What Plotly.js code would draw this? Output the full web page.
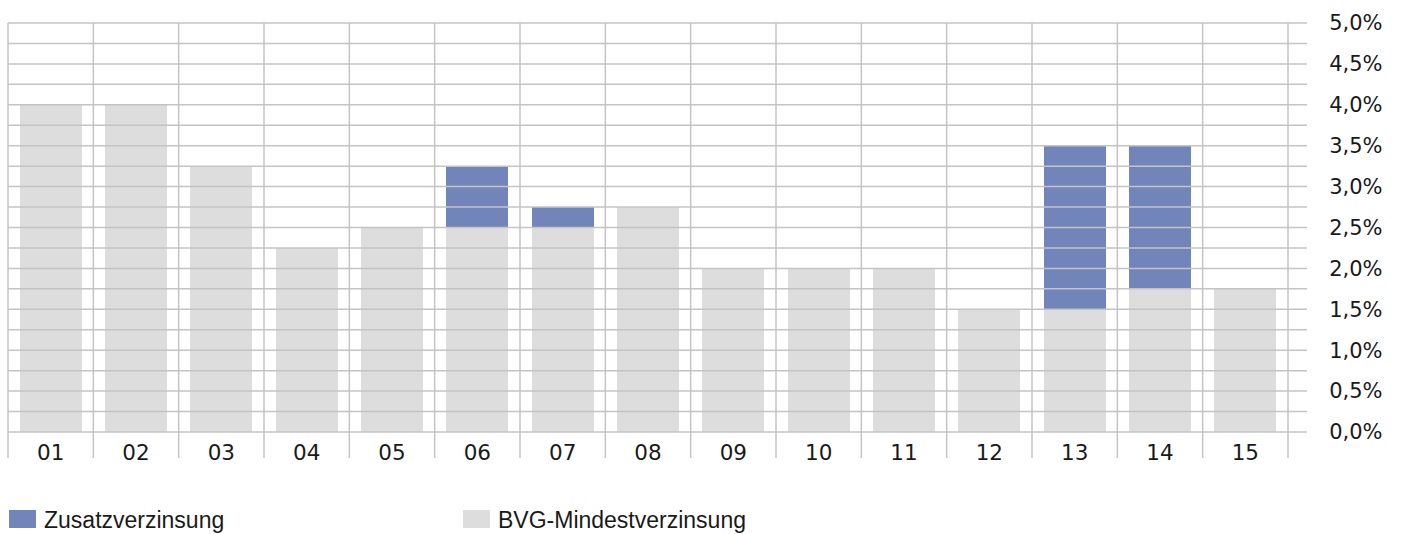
<!DOCTYPE html>
<html>
<head>
<meta charset="utf-8">
<script src="https://cdn.plot.ly/plotly-3.0.1.min.js"></script>
<style>html,body{margin:0;padding:0;background:#fff;}#chart{width:1401px;height:534px;}</style>
</head>
<body>
<div id="chart"></div>
<script>
const categories = ['01','02','03','04','05','06','07','08','09','10','11','12','13','14','15'];
const bvgMindest = [4, 4, 3.25, 2.25, 2.5, 2.5, 2.5, 2.75, 2, 2, 2, 1.5, 1.5, 1.75, 1.75];
const zusatz     = [0, 0, 0, 0, 0, 0.75, 0.25, 0, 0, 0, 0, 0, 2, 1.75, 0];
const seriesNames = ['Zusatzverzinsung', 'BVG-Mindestverzinsung'];
const colors = {zusatz: '#7185ba', bvg: '#dddddd', grid: '#c4c4c4', text: '#1a1a1a'};

const W = 1401, H = 534;
const M = {l: 8, r: 113, t: 23, b: 102};
const PW = W - M.l - M.r, PH = H - M.t - M.b;
const yMax = 5, yStep = 0.25;
const px = x => (x - M.l) / PW;
const py = y => (M.t + PH - y) / PH;

const traces = [
  {type: 'bar', x: categories, y: bvgMindest, name: seriesNames[1], marker: {color: colors.bvg}, showlegend: false, hoverinfo: 'skip'},
  {type: 'bar', x: categories, y: zusatz, name: seriesNames[0], marker: {color: colors.zusatz}, showlegend: false, hoverinfo: 'skip'}
];

const shapes = [];
// horizontal grid lines (drawn above bars), extending as right-side ticks
for (let v = 0; v <= yMax + 1e-9; v += yStep) {
  shapes.push({type: 'line', layer: 'above', xref: 'paper', yref: 'paper',
    x0: 0, x1: 1 + 19 / PW, y0: v / yMax, y1: v / yMax,
    line: {color: colors.grid, width: 1.5}});
}
// vertical category boundary lines, extending below the axis
for (let i = 0; i <= categories.length; i++) {
  const xp = i / categories.length;
  shapes.push({type: 'line', layer: 'above', xref: 'paper', yref: 'paper',
    x0: xp, x1: xp, y0: -26 / PH, y1: 1,
    line: {color: colors.grid, width: 1.5}});
}
// manual legend swatches
const legendItems = [
  {name: seriesNames[0], color: colors.zusatz, x: 9},
  {name: seriesNames[1], color: colors.bvg, x: 463}
];
const annotations = [];
legendItems.forEach(it => {
  shapes.push({type: 'rect', xref: 'paper', yref: 'paper',
    x0: px(it.x), x1: px(it.x + 27), y0: py(528), y1: py(510),
    fillcolor: it.color, line: {width: 0}});
  annotations.push({xref: 'paper', yref: 'paper', x: px(it.x + 33), y: py(519.5),
    xanchor: 'left', yanchor: 'middle', showarrow: false, text: it.name,
    font: {family: 'Liberation Sans, Arial, sans-serif', size: 23, color: colors.text}});
});

const layout = {
  width: W, height: H,
  margin: M,
  paper_bgcolor: '#ffffff', plot_bgcolor: '#ffffff',
  barmode: 'stack', bargap: 0.27,
  showlegend: false,
  separators: ',.',
  font: {family: 'DejaVu Sans, sans-serif', size: 21, color: colors.text},
  xaxis: {type: 'category', range: [-0.5, categories.length - 0.5], showgrid: false, zeroline: false, showline: false,
    ticks: 'outside', ticklen: 1, tickcolor: 'rgba(0,0,0,0)', tickfont: {size: 21.5}, fixedrange: true},
  yaxis: {side: 'right', range: [0, yMax], dtick: 0.5, tick0: 0, tickformat: '.1f', ticksuffix: '%',
    showgrid: false, zeroline: false, showline: false,
    ticks: 'outside', ticklen: 36, tickcolor: 'rgba(0,0,0,0)', fixedrange: true},
  shapes: shapes,
  annotations: annotations
};

Plotly.newPlot('chart', traces, layout, {displayModeBar: false, staticPlot: true});
</script>
</body>
</html>
